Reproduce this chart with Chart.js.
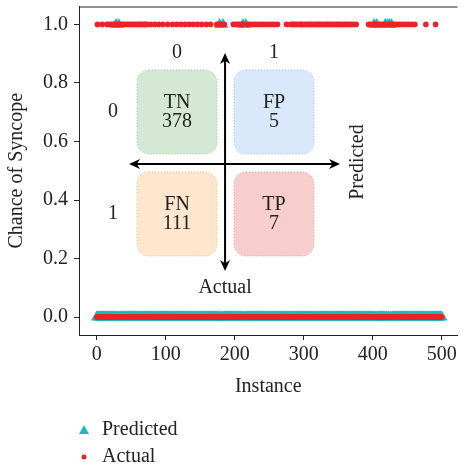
<!DOCTYPE html>
<html>
<head>
<meta charset="utf-8">
<script src="https://cdn.jsdelivr.net/npm/chart.js@4.4.1/dist/chart.umd.min.js"></script>
<style>
  html, body { margin: 0; padding: 0; background: #fff; }
  #chart { display: block; }
</style>
</head>
<body>
<canvas id="chart" width="464" height="470"></canvas>
<script>
// ---- data ----
var instanceCount = 501; // instances 0..500

// instances where the actual label is 1 (syncope)
var actualOnes = [
    1, 8,
    15, 18, 21, 24, 26, 28, 31, 34, 37, 40, 43, 46, 49, 52, 55, 58, 61, 63, 66, 69, 71, 73,
    78, 84, 90, 96, 103, 110, 116,
    122, 128, 134, 140, 146, 152, 159, 165,
    174, 178, 181, 185,
    198, 201, 204, 207, 210, 212, 219, 222, 226, 230, 234, 238, 242, 246, 250, 254, 258, 262,
    275,
    281, 284, 286, 289, 292, 295, 297, 300, 303, 306, 309, 311, 314, 317, 320, 322, 325, 328,
    331, 334, 336, 339, 342, 345, 348, 350, 353, 356, 359, 362, 365, 368, 372, 376,
    394, 397, 401, 402, 405, 409, 412, 415, 418, 424, 427, 430, 433, 437, 440, 444, 448, 452, 456, 461,
    477, 491
];

// instances where the model predicted 1
var predictedOnes = [28, 32, 178, 183, 212, 216, 402, 406, 418, 421, 424, 427];

var xTicks = [0, 100, 200, 300, 400, 500];
var yTicks = [0, 0.2, 0.4, 0.6, 0.8, 1.0];

// confusion matrix (rows: actual 0/1, cols: predicted 0/1)
var cmLabels = ['TN', 'FP', 'FN', 'TP'];
var cmValues = [378, 5, 111, 7];
var cmFill = ['#d5e8d4', '#dae8fc', '#ffe6cc', '#f8cecc'];
var cmBorder = ['#9cc49a', '#9db8dd', '#e6b880', '#d99a98'];

var legendLabels = ['Predicted', 'Actual'];

var RED = '#ec2229';
var CYAN = '#1fb8c0';
var INK = '#222222';
var FONT = "'Liberation Serif', 'DejaVu Serif', serif";


// build the point series
var actualPoints = [];
var predictedPoints = [];
for (let i = 0; i < instanceCount; i++) {
    actualPoints.push({ x: i, y: actualOnes.indexOf(i) >= 0 ? 1 : 0 });
    predictedPoints.push({ x: i, y: predictedOnes.indexOf(i) >= 0 ? 1 : 0 });
}


// arrow with heads at both ends
function doubleArrow(ctx, x1, y1, x2, y2) {
    var ang = Math.atan2(y2 - y1, x2 - x1);
    var hl = 11, hw = 5;
    ctx.beginPath();
    ctx.moveTo(x1 + Math.cos(ang) * 4, y1 + Math.sin(ang) * 4);
    ctx.lineTo(x2 - Math.cos(ang) * 4, y2 - Math.sin(ang) * 4);
    ctx.stroke();
    [[x2, y2, ang], [x1, y1, ang + Math.PI]].forEach(function (h) {
        var x = h[0], y = h[1], a = h[2];
        ctx.beginPath();
        ctx.moveTo(x, y);
        ctx.lineTo(x - Math.cos(a) * hl - Math.sin(a) * hw, y - Math.sin(a) * hl + Math.cos(a) * hw);
        ctx.lineTo(x - Math.cos(a) * hl * 0.7, y - Math.sin(a) * hl * 0.7);
        ctx.lineTo(x - Math.cos(a) * hl + Math.sin(a) * hw, y - Math.sin(a) * hl - Math.cos(a) * hw);
        ctx.closePath();
        ctx.fill();
    });
}

function roundBox(ctx, x, y, w, h, r) {
    ctx.beginPath();
    ctx.moveTo(x + r, y);
    ctx.arcTo(x + w, y, x + w, y + h, r);
    ctx.arcTo(x + w, y + h, x, y + h, r);
    ctx.arcTo(x, y + h, x, y, r);
    ctx.arcTo(x, y, x + w, y, r);
    ctx.closePath();
}


// frame, confusion matrix overlay and legend
var overlayPlugin = {
    id: 'overlay',
    afterDraw: function (chart) {
        var ctx = chart.ctx;
        var area = chart.chartArea;
        ctx.save();

        // top spine (left/bottom come from the axes)
        ctx.strokeStyle = INK;
        ctx.lineWidth = 1;
        ctx.beginPath();
        ctx.moveTo(area.left, area.top + 0.5);
        ctx.lineTo(area.right, area.top + 0.5);
        ctx.stroke();

        // confusion matrix, centred on the cross
        var cx = chart.scales.x.getPixelForValue(186);
        var cy = chart.scales.y.getPixelForValue(0.523);
        var boxW = 80, boxH = 84;
        var boxX = [cx - 88, cx + 9];
        var boxY = [cy - 94, cy + 8];

        for (let k = 0; k < 4; k++) {
            let bx = boxX[k % 2], by = boxY[Math.floor(k / 2)];
            roundBox(ctx, bx, by, boxW, boxH, 12);
            ctx.fillStyle = cmFill[k];
            ctx.fill();
            ctx.setLineDash([1, 2]);
            ctx.strokeStyle = cmBorder[k];
            ctx.lineWidth = 1;
            ctx.stroke();
            ctx.setLineDash([]);

            ctx.fillStyle = INK;
            ctx.font = '20px ' + FONT;
            ctx.textAlign = 'center';
            ctx.textBaseline = 'middle';
            ctx.fillText(cmLabels[k], bx + boxW / 2, by + boxH / 2 - 9);
            ctx.fillText(String(cmValues[k]), bx + boxW / 2, by + boxH / 2 + 10);
        }

        // class labels
        ctx.fillText('0', boxX[0] + boxW / 2, cy - 111);
        ctx.fillText('1', boxX[1] + boxW / 2, cy - 111);
        ctx.fillText('0', cx - 112, boxY[0] + boxH / 2);
        ctx.fillText('1', cx - 112, boxY[1] + boxH / 2);

        // axes of the matrix
        ctx.strokeStyle = '#000';
        ctx.fillStyle = '#000';
        ctx.lineWidth = 2;
        doubleArrow(ctx, cx, cy - 111, cx, cy + 107);
        doubleArrow(ctx, cx - 96, cy, cx + 115, cy);

        ctx.fillStyle = INK;
        ctx.fillText('Actual', cx, cy + 124);
        ctx.save();
        ctx.translate(cx + 133, cy - 2);
        ctx.rotate(-Math.PI / 2);
        ctx.fillText('Predicted', 0, 0);
        ctx.restore();

        // legend
        ctx.textAlign = 'left';
        ctx.fillStyle = CYAN;
        ctx.beginPath();
        ctx.moveTo(84, 425);
        ctx.lineTo(89, 434);
        ctx.lineTo(79, 434);
        ctx.closePath();
        ctx.fill();
        ctx.fillStyle = RED;
        ctx.beginPath();
        ctx.arc(84, 457, 2.5, 0, Math.PI * 2);
        ctx.fill();
        ctx.fillStyle = INK;
        ctx.fillText(legendLabels[0], 102, 430);
        ctx.fillText(legendLabels[1], 102, 457);

        ctx.restore();
    }
};


// chart
var ctx = document.getElementById('chart').getContext('2d');
var myChart = new Chart(ctx, {
    type: 'scatter',
    data: {
        datasets: [{
                label: 'Actual',
                data: actualPoints,
                pointStyle: 'circle',
                pointRadius: 2.8,
                backgroundColor: RED,
                borderWidth: 0
            },
            {
                label: 'Predicted',
                data: predictedPoints,
                pointStyle: 'triangle',
                pointRadius: 6.5,
                backgroundColor: CYAN,
                borderWidth: 0
            }
        ]
    },
    options: {
        responsive: false,
        animation: false,
        events: [],
        layout: { padding: { top: 5, right: 0, bottom: 70, left: 0 } },
        plugins: {
            legend: { display: false },
            tooltip: { enabled: false }
        },
        scales: {
            x: {
                type: 'linear',
                min: -25.6,
                max: 522.8,
                afterBuildTicks: function (s) { s.ticks = xTicks.map(function (v) { return { value: v }; }); },
                afterFit: function (s) { s.height = 65; s.paddingLeft = 0; s.paddingRight = 0; },
                ticks: { color: INK, font: { family: FONT, size: 20 }, padding: 3, maxRotation: 0 },
                grid: { drawOnChartArea: false, tickLength: 5, color: INK },
                border: { display: true, color: INK, width: 1 },
                title: { display: true, text: 'Instance', color: INK, font: { family: FONT, size: 20 }, padding: { top: 0, bottom: 1 } }
            },
            y: {
                min: -0.0612,
                max: 1.0612,
                afterBuildTicks: function (s) { s.ticks = yTicks.map(function (v) { return { value: v }; }); },
                afterFit: function (s) { s.width = 79; s.paddingTop = 0; s.paddingBottom = 0; },
                ticks: { color: INK, font: { family: FONT, size: 20 }, padding: 6, callback: function (v) { return v.toFixed(1); } },
                grid: { drawOnChartArea: false, tickLength: 5, color: INK },
                border: { display: true, color: INK, width: 1 },
                title: { display: true, text: 'Chance of Syncope', color: INK, font: { family: FONT, size: 20 }, padding: { top: 5, bottom: 0 } }
            }
        }
    },
    plugins: [overlayPlugin]
});
</script>
</body>
</html>
